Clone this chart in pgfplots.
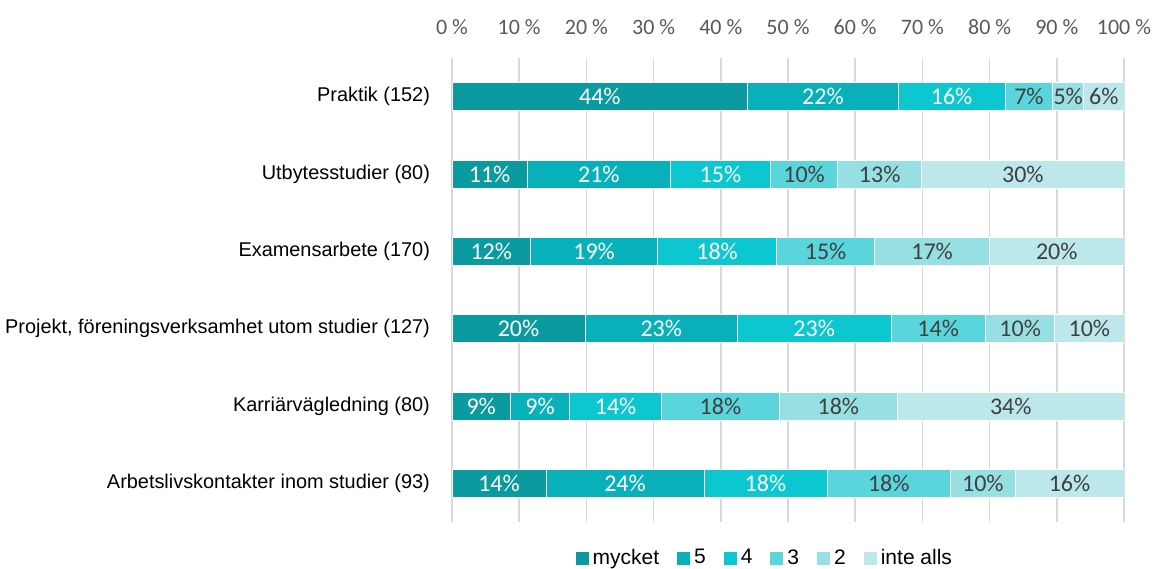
\documentclass[border=0pt]{standalone}
\usepackage{fontspec}
\setmainfont{Liberation Sans}
\newfontfamily\carlito{Carlito}
\usepackage{pgfplots}
\usepackage{pgfplotstable}
\pgfplotsset{compat=1.18}
\definecolor{c1}{HTML}{0A9AA0}
\definecolor{c2}{HTML}{08B1B9}
\definecolor{c3}{HTML}{0CC7CF}
\definecolor{c4}{HTML}{5AD5DC}
\definecolor{c5}{HTML}{96DFE3}
\definecolor{c6}{HTML}{BCE8EC}
\definecolor{gridgray}{HTML}{D9D9D9}
\definecolor{tickgray}{HTML}{595959}
\definecolor{darklab}{HTML}{404040}
\pgfplotstableread{
y  m    ml  f    fl  v    vl  t    tl  w    wl  i    il
5  44.0 44  22.4 22  15.9 16  7.1  7   4.6  5   6.0  6
4  11.2 11  21.3 21  14.9 15  10.0 10  12.5 13  30.1 30
3  11.7 12  18.9 19  17.7 18  14.6 15  17.1 17  20.0 20
2  19.8 20  22.7 23  22.8 23  14.1 14  10.3 10  10.3 10
1  8.7  9   8.8  9   13.7 14  17.5 18  17.6 18  33.7 34
0  14.0 14  23.5 24  18.3 18  18.4 18  9.6  10  16.2 16
}\datatable
\begin{document}
\begin{tikzpicture}
\begin{axis}[
  name=ax,
  scale only axis,
  width=336pt, height=232pt,
  xbar stacked,
  bar width=14pt,
  xmin=0, xmax=100, ymin=-0.5, ymax=5.5,
  xtick={0,10,...,100},
  xticklabel pos=upper,
  /pgf/number format/assume math mode=true,
  xticklabel={\pgfmathprintnumber{\tick}~\%},
  xticklabel style={font=\carlito\fontsize{11}{13}\selectfont, text=tickgray, yshift=8pt},
  ytick={0,...,5},
  yticklabels={Arbetslivskontakter inom studier (93), Karriärvägledning (80), {Projekt, föreningsverksamhet utom studier (127)}, Examensarbete (170), Utbytesstudier (80), Praktik (152)},
  yticklabel style={font=\fontsize{9.95}{12}\selectfont, text=black, xshift=-7.5pt},
  xmajorgrids,
  grid style={draw=gridgray, line width=0.75pt},
  axis line style={draw=none},
  major tick length=0pt,
  point meta=explicit symbolic,
  nodes near coords={\pgfplotspointmeta\%},
  nodes near coords align={center},
  every node near coord/.append style={anchor=center, font=\carlito\fontsize{12}{14}\selectfont},
  legend columns=6,
  legend style={at={(0.467,-0.078)}, anchor=center, draw=none, fill=none, font=\fontsize{10.5}{12}\selectfont,
    /tikz/every odd column/.append style={column sep=0pt},
    /tikz/every even column/.append style={column sep=7pt}},
  legend image code/.code={\fill[#1, draw=none] (0pt,-3.25pt) rectangle (6.5pt,3.25pt);},
]
\addplot[fill=c1, draw=white, line width=0.3pt, every node near coord/.append style={text=white}] table[x=m, y=y, meta=ml] \datatable;
\addplot[fill=c2, draw=white, line width=0.3pt, every node near coord/.append style={text=white}] table[x=f, y=y, meta=fl] \datatable;
\addplot[fill=c3, draw=white, line width=0.3pt, every node near coord/.append style={text=white}] table[x=v, y=y, meta=vl] \datatable;
\addplot[fill=c4, draw=white, line width=0.3pt, every node near coord/.append style={text=darklab}] table[x=t, y=y, meta=tl] \datatable;
\addplot[fill=c5, draw=white, line width=0.3pt, every node near coord/.append style={text=darklab}] table[x=w, y=y, meta=wl] \datatable;
\addplot[fill=c6, draw=white, line width=0.3pt, every node near coord/.append style={text=darklab}] table[x=i, y=y, meta=il] \datatable;
\legend{mycket,5,4,3,2,inte alls}
\end{axis}
\pgfresetboundingbox
\path[use as bounding box] ([shift={(-226pt,-23pt)}]ax.south west) rectangle ([shift={(352.5pt,261pt)}]ax.south west);
\end{tikzpicture}
\end{document}
